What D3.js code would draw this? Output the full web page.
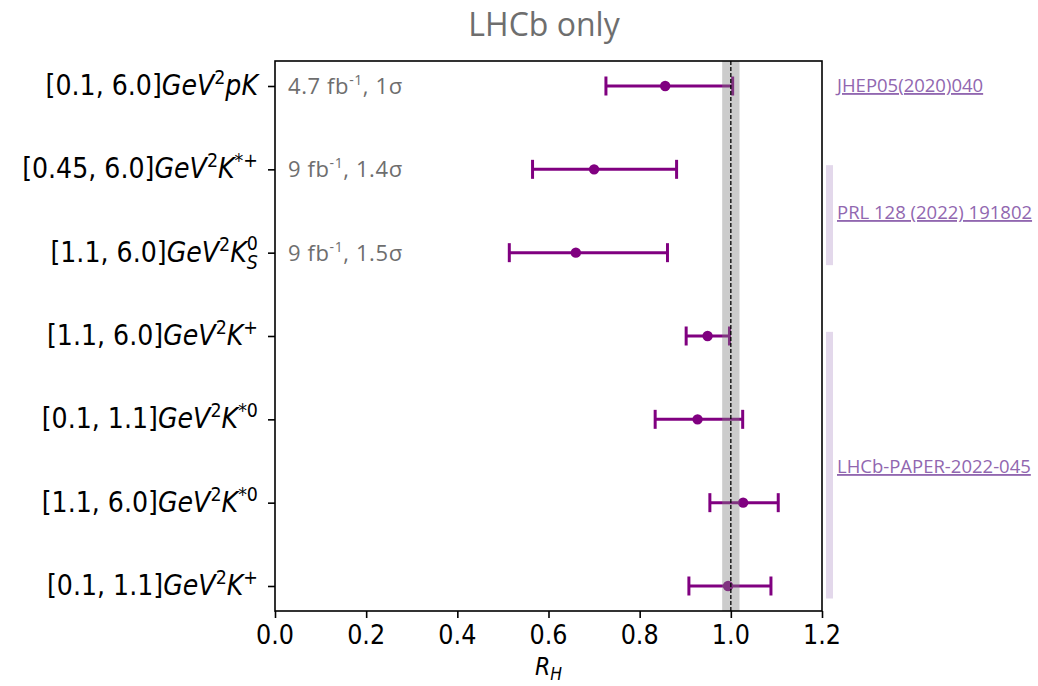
<!DOCTYPE html>
<html>
<head>
<meta charset="utf-8">
<script src="https://cdn.jsdelivr.net/npm/d3@7.9.0/dist/d3.min.js"></script>
<style>
  body { margin: 0; background: #fff; }
  svg { display: block; }
  .math { font-family: 'DejaVu Sans', sans-serif; }
</style>
</head>
<body>
<svg id="chart" width="1038" height="686"></svg>
<script>
// rows, top to bottom
const q2Bins = ['[0.1, 6.0]', '[0.45, 6.0]', '[1.1, 6.0]', '[1.1, 6.0]', '[0.1, 1.1]', '[1.1, 6.0]', '[0.1, 1.1]'];
const particles = ['pK', 'K', 'K', 'K', 'K', 'K', 'K'];
const particleSup = ['', '*+', '0', '+', '*0', '*0', '+'];
const particleSub = ['', '', 'S', '', '', '', ''];

const rValues = [0.856, 0.700, 0.660, 0.949, 0.927, 1.027, 0.994];
const errLow = [0.130, 0.135, 0.146, 0.047, 0.093, 0.073, 0.086];
const errHigh = [0.148, 0.181, 0.201, 0.048, 0.099, 0.077, 0.094];

const lumiNotes = [['4.7', '1σ'], ['9', '1.4σ'], ['9', '1.5σ']];

const refNames = ['JHEP05(2020)040', 'PRL 128 (2022) 191802', 'LHCb-PAPER-2022-045'];
const refFirstRow = [0, 1, 3];
const refLastRow = [0, 2, 6];

const xTicks = [0.0, 0.2, 0.4, 0.6, 0.8, 1.0, 1.2];
const smBand = [0.981, 1.019];

const svg = d3.select('#chart');
const plot = { left: 275, right: 822, top: 61, bottom: 611 };
const purple = '#800080';
const squeeze = 0.92; // matplotlib text looks a bit narrow in the picture

const rows = d3.range(q2Bins.length);
const x = d3.scaleLinear().domain([0, 1.2]).range([plot.left, plot.right]);
const y = d3.scalePoint().domain(rows).range([plot.top, plot.bottom]).padding(0.3);

// title
svg.append('text')
    .attr('x', 544).attr('y', 36)
    .attr('text-anchor', 'middle')
    .attr('font-family', 'Open Sans, sans-serif')
    .attr('font-size', 32)
    .attr('fill', '#6e6e6e')
    .text('LHCb only');

// error bars
const bars = svg.append('g');
rows.forEach((i) => {
    const yy = y(i);
    const lo = rValues[i] - errLow[i];
    const hi = rValues[i] + errHigh[i];
    bars.append('line')
        .attr('x1', x(lo)).attr('x2', x(hi))
        .attr('y1', yy).attr('y2', yy)
        .attr('stroke', purple).attr('stroke-width', 3);
    [lo, hi].forEach((v) => {
        bars.append('line')
            .attr('x1', x(v)).attr('x2', x(v))
            .attr('y1', yy - 9.5).attr('y2', yy + 9.5)
            .attr('stroke', purple).attr('stroke-width', 3);
    });
    bars.append('circle')
        .attr('cx', x(rValues[i])).attr('cy', yy)
        .attr('r', 5.2).attr('fill', purple);
});

// SM band and line
svg.append('rect')
    .attr('x', x(smBand[0])).attr('width', x(smBand[1]) - x(smBand[0]))
    .attr('y', plot.top).attr('height', plot.bottom - plot.top)
    .attr('fill', '#808080').attr('opacity', 0.4);
svg.append('line')
    .attr('x1', x(1)).attr('x2', x(1))
    .attr('y1', plot.top).attr('y2', plot.bottom)
    .attr('stroke', '#000').attr('stroke-width', 1.3)
    .attr('stroke-dasharray', '4,2');

// luminosity notes
lumiNotes.forEach(([lumi, sig], i) => {
    const t = svg.append('text')
        .attr('x', 288).attr('y', y(i) + 8)
        .attr('font-family', 'Open Sans, sans-serif')
        .attr('font-size', 22)
        .attr('letter-spacing', 0.6)
        .attr('fill', '#6e6e6e');
    t.append('tspan').text(`${lumi} fb`);
    t.append('tspan').attr('dy', -9).attr('font-size', 14).text('-1');
    t.append('tspan').attr('dy', 9).text(`, ${sig}`);
});

// frame
svg.append('rect')
    .attr('x', plot.left).attr('y', plot.top)
    .attr('width', plot.right - plot.left).attr('height', plot.bottom - plot.top)
    .attr('fill', 'none').attr('stroke', '#000').attr('stroke-width', 1.6);

// x axis
const xAxis = svg.append('g')
    .attr('transform', `translate(0,${plot.bottom})`)
    .call(d3.axisBottom(x).tickValues(xTicks).tickSize(7).tickFormat(''));
xAxis.select('.domain').remove();
xAxis.selectAll('line').attr('stroke-width', 1.6);

xTicks.forEach((v) => {
    svg.append('text')
        .attr('class', 'math')
        .attr('transform', `translate(${x(v)},${plot.bottom + 33}) scale(${squeeze},1)`)
        .attr('text-anchor', 'middle')
        .attr('font-size', 26)
        .attr('fill', '#000')
        .text(d3.format('.1f')(v));
});

const xLabel = svg.append('text')
    .attr('class', 'math')
    .attr('transform', `translate(${x(0.6)},675) scale(${squeeze},1)`)
    .attr('text-anchor', 'middle')
    .attr('font-size', 24)
    .attr('font-style', 'italic');
xLabel.append('tspan').text('R');
xLabel.append('tspan').attr('dy', 5).attr('font-size', 17).text('H');

// y axis
const yAxis = svg.append('g')
    .attr('transform', `translate(${plot.left},0)`)
    .call(d3.axisLeft(y).tickSize(7).tickFormat(''));
yAxis.select('.domain').remove();
yAxis.selectAll('line').attr('stroke-width', 1.6);

rows.forEach((i) => {
    const t = svg.append('text')
        .attr('class', 'math')
        .attr('transform', `translate(${plot.left - 17},${y(i) + 9}) scale(${squeeze},1)`)
        .attr('text-anchor', 'end')
        .attr('font-size', 27.5)
        .attr('fill', '#000');
    t.append('tspan').text(q2Bins[i]);
    t.append('tspan').attr('font-style', 'italic').text('GeV');
    t.append('tspan').attr('dy', -11).attr('font-size', 19).text('2');
    t.append('tspan').attr('dy', 11).attr('font-style', 'italic').text(particles[i]);
    if (particleSub[i]) {
        t.append('tspan').attr('dy', 7).attr('font-size', 19).attr('font-style', 'italic').text(particleSub[i]);
        t.append('tspan').attr('dy', -19).attr('dx', -12).attr('font-size', 19).text(particleSup[i]);
    } else if (particleSup[i]) {
        t.append('tspan').attr('dy', -11).attr('font-size', 19).text(particleSup[i]);
    }
});

// references
const step = y.step();
refNames.forEach((name, k) => {
    const y0 = y(refFirstRow[k]);
    const y1 = y(refLastRow[k]);
    if (refLastRow[k] > refFirstRow[k]) {
        svg.append('rect')
            .attr('x', 826).attr('width', 7)
            .attr('y', y0 - step * 0.05).attr('height', y1 - y0 + step * 0.2)
            .attr('fill', '#e3d8eb');
    }
    svg.append('text')
        .attr('x', 837).attr('y', (y0 + y1) / 2 + 6 + (refLastRow[k] - refFirstRow[k]) * 2)
        .attr('font-family', 'Open Sans, sans-serif')
        .attr('font-size', 18.5)
        .attr('fill', '#9167b0')
        .attr('text-decoration', 'underline')
        .text(name);
});
</script>
</body>
</html>
